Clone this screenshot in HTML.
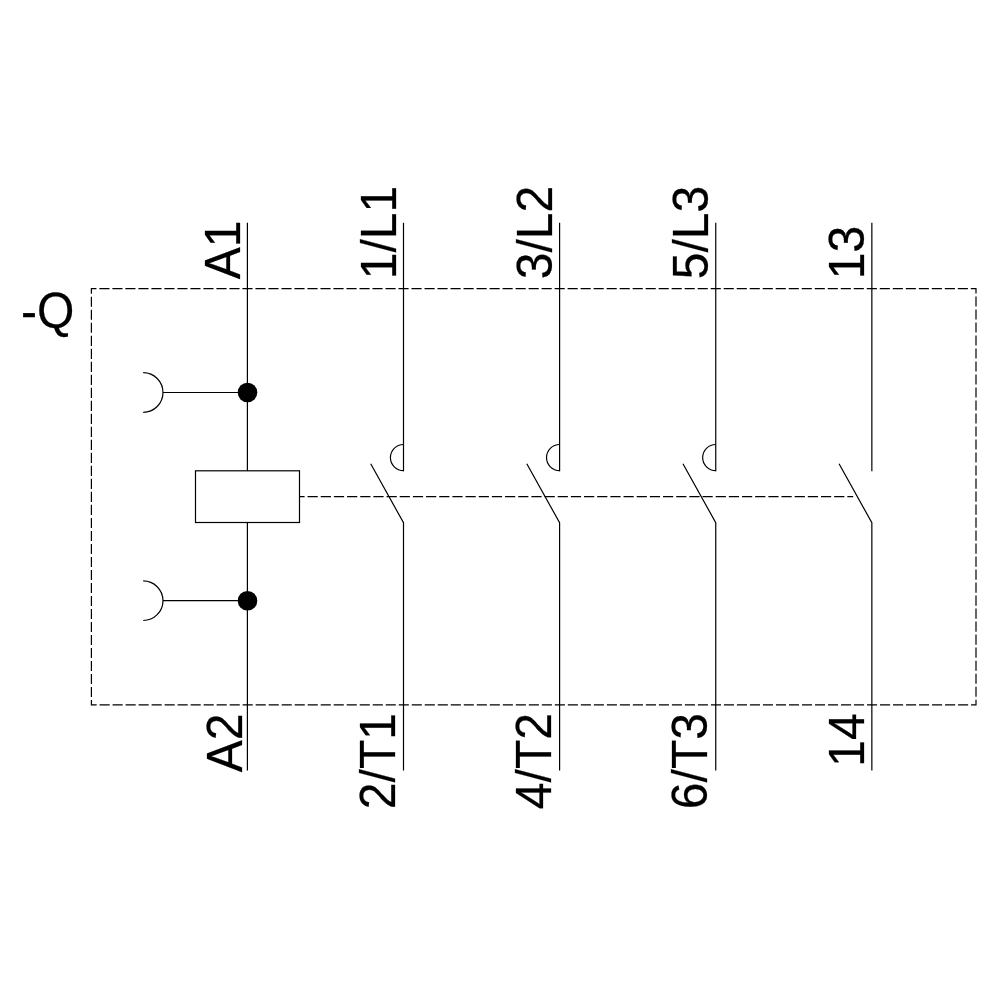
<!DOCTYPE html>
<html lang="en"><head><meta charset="utf-8"><title>-Q contactor circuit symbol</title>
<style>
html,body{margin:0;padding:0;background:#fff;}
body{width:1000px;height:1000px;overflow:hidden;}
svg{display:block;filter:grayscale(1);}
text{font-family:"Liberation Sans",Arial,Helvetica,sans-serif;font-size:48px;fill:#000;stroke:#000;stroke-width:0.25px;stroke-linejoin:miter;}
</style></head>
<body>
<svg width="1000" height="1000" viewBox="0 0 1000 1000">
<rect width="1000" height="1000" fill="#fff"/>
<g fill="none" stroke="#000" stroke-width="1.2">
<path d="M91.4 288.6H976.0V704.8H91.4Z" stroke-dasharray="10.1 2.907" stroke-dashoffset="5.05"/>
<line x1="247.4" y1="222.8" x2="247.4" y2="470.8"/>
<line x1="247.4" y1="522.5" x2="247.4" y2="770.4"/>
<rect x="195.5" y="470.8" width="104" height="51.7"/>
<circle cx="247.5" cy="392.5" r="9.8" fill="#000" stroke="none"/>
<line x1="163" y1="392.5" x2="247.4" y2="392.5"/>
<path d="M143.2 372.7A19.8 19.8 0 0 1 143.2 412.3"/>
<circle cx="247.5" cy="600.7" r="9.8" fill="#000" stroke="none"/>
<line x1="163" y1="600.7" x2="247.4" y2="600.7"/>
<path d="M143.2 580.9A19.8 19.8 0 0 1 143.2 620.5"/>
<line x1="299.5" y1="496.6" x2="853.2" y2="496.6" stroke-dasharray="10.2 2.965" stroke-dashoffset="5.1"/>
<line x1="403.5" y1="222.8" x2="403.5" y2="471.3"/>
<path d="M403.5 444.5A13.1 13.1 0 0 0 403.5 470.7"/>
<path d="M370.70 463.8L403.5 522.7V770.4"/>
<line x1="559.6" y1="222.8" x2="559.6" y2="471.3"/>
<path d="M559.6 444.5A13.1 13.1 0 0 0 559.6 470.7"/>
<path d="M526.80 463.8L559.6 522.7V770.4"/>
<line x1="715.75" y1="222.8" x2="715.75" y2="471.3"/>
<path d="M715.75 444.5A13.1 13.1 0 0 0 715.75 470.7"/>
<path d="M682.95 463.8L715.75 522.7V770.4"/>
<line x1="871.85" y1="222.8" x2="871.85" y2="471.3"/>
<path d="M839.05 463.8L871.85 522.7V770.4"/>
</g>
<g>
<text transform="translate(239.70 279.2) rotate(-90) scale(1 1.03)">A1</text>
<text transform="translate(395.50 279.2) rotate(-90) scale(1 1.03)">1/L1</text>
<text transform="translate(551.60 279.2) rotate(-90) scale(1 1.03)">3/L2</text>
<text transform="translate(707.75 279.2) rotate(-90) scale(1 1.03)">5/L3</text>
<text transform="translate(863.95 279.2) rotate(-90) scale(1 1.03)">13</text>
<text text-anchor="end" transform="translate(241.70 713.5) rotate(-90) scale(1 1.03)">A2</text>
<text text-anchor="end" transform="translate(394.50 713.1) rotate(-90) scale(1 1.03)">2/T1</text>
<text text-anchor="end" transform="translate(550.60 713.1) rotate(-90) scale(1 1.03)">4/T2</text>
<text text-anchor="end" transform="translate(706.75 713.1) rotate(-90) scale(1 1.03)">6/T3</text>
<text text-anchor="end" transform="translate(863.95 713.4) rotate(-90) scale(1 1.03)">14</text>
<text transform="translate(21 327.6) scale(1 1.03)">-Q</text>
</g>
</svg>
</body></html>
